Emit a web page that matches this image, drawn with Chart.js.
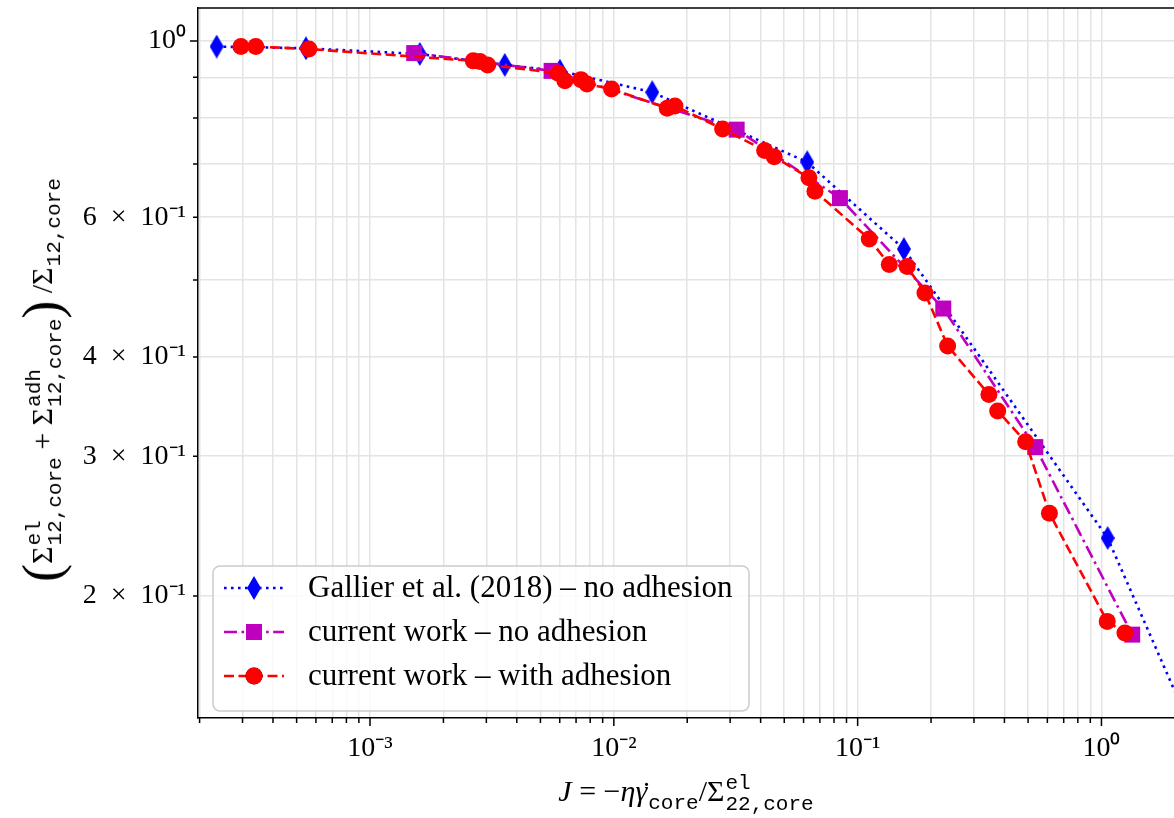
<!DOCTYPE html>
<html>
<head>
<meta charset="utf-8">
<script src="https://cdn.jsdelivr.net/npm/chart.js@4.4.1/dist/chart.umd.min.js"></script>
<style>
  html, body { margin: 0; padding: 0; background: #fff; }
  #wrap { position: relative; width: 1174px; height: 818px; overflow: hidden; }
  canvas { display: block; }
  .ttl { position: absolute; font-family: "Liberation Serif", serif; color: #000; white-space: nowrap; line-height: 1; font-size: 30px; }
  .tt { font-family: "Liberation Mono", monospace; }
  .ss { display: inline-block; vertical-align: -9px; font-size: 21px; line-height: 1.0; text-align: left; margin-left: 1px; }
  .ss > span { display: block; }
  .sb { font-size: 21px; vertical-align: -0.4em; margin-left: 1px; }
  .bp { font-size: 54px; vertical-align: -8px; }
  .dotted { position: relative; display: inline-block; }
  .dotted > .dot { position: absolute; left: 0.2em; top: 0.06em; font-style: normal; }
  #xtitle { left: 686px; top: 773px; transform: translateX(-50%); }
  #ytitle { left: 42px; top: 380px; transform: translate(-50%, -50%) rotate(-90deg); }
</style>
</head>
<body>
<div id="wrap">
  <canvas id="chart" width="1174" height="818"></canvas>
  <div id="xtitle" class="ttl"><i>J</i> = −<i>η</i><i class="dotted">γ<span class="dot">˙</span></i><span class="sb tt">core</span>/Σ<span class="ss tt"><span>el</span><span>22,core</span></span></div>
  <div id="ytitle" class="ttl"><span class="bp">(</span>Σ<span class="ss tt"><span>el</span><span>12,core</span></span> + Σ<span class="ss tt"><span>adh</span><span>12,core</span></span><span class="bp">)</span> /Σ<span class="sb tt">12,core</span></div>
</div>
<script>
// Shear stress ratio against the dimensionless shear rate J (log-log)

// Gallier et al. (2018), no adhesion
const J_GALLIER = [2.35e-4, 5.46e-4, 1.60e-3, 3.57e-3, 6.01e-3, 0.01437, 0.0621, 0.1548, 1.060, 3.0];
const S_GALLIER = [0.984, 0.979, 0.963, 0.933, 0.917, 0.862, 0.7036, 0.547, 0.2366, 0.1142];

// current work, no adhesion
const J_NOADH = [1.518e-3, 5.556e-3, 0.03190, 0.0846, 0.2245, 0.5353, 1.337];
const S_NOADH = [0.9656, 0.917, 0.7733, 0.634, 0.4603, 0.308, 0.1788];

// current work, with adhesion
const J_ADH = [2.955e-4, 3.40e-4, 5.615e-4, 2.651e-3, 2.824e-3, 3.037e-3, 5.916e-3, 6.30e-3, 7.33e-3,
               7.76e-3, 9.79e-3, 0.01656, 0.01781, 0.02794, 0.04155, 0.04548, 0.06313, 0.06682,
               0.1116, 0.1348, 0.1596, 0.1888, 0.2339, 0.3455, 0.3753, 0.4887, 0.6118, 1.056, 1.248];
const S_ADH = [0.984, 0.984, 0.977, 0.944, 0.942, 0.933, 0.911, 0.891, 0.894,
               0.883, 0.870, 0.823, 0.828, 0.775, 0.728, 0.715, 0.6725, 0.647,
               0.563, 0.523, 0.520, 0.4816, 0.413, 0.3588, 0.342, 0.3128, 0.2543, 0.1858, 0.1797];

const SERIES_LABELS = [
  'Gallier et al. (2018) – no adhesion',
  'current work – no adhesion',
  'current work – with adhesion'
];

// axis ticks
const X_DECADES = [1e-4, 1e-3, 1e-2, 1e-1, 1];
const X_MAJOR_LABELS = { '0.001': '10⁻³', '0.01': '10⁻²', '0.1': '10⁻¹', '1': '10⁰' };
const Y_TICKS = [0.2, 0.3, 0.4, 0.5, 0.6, 0.7, 0.8, 0.9, 1];
const Y_TICK_LABELS = ['2\u2002×\u200210⁻¹', '3\u2002×\u200210⁻¹', '4\u2002×\u200210⁻¹', '',
                       '6\u2002×\u200210⁻¹', '', '', '', '10⁰'];

const X_MIN = 1.970e-4, X_MAX = 1.984;
const Y_MIN = 0.1404, Y_MAX = 1.1004;

const FONT = "'Liberation Serif', serif";
Chart.defaults.font.family = FONT;
Chart.defaults.color = '#000';

function pts(xs, ys) { return xs.map((x, i) => ({ x: x, y: ys[i] })); }

// tall, narrow diamond marker
function thinDiamond(w, h, color) {
  const c = document.createElement('canvas');
  c.width = w; c.height = h;
  const g = c.getContext('2d');
  g.fillStyle = color;
  g.beginPath();
  g.moveTo(w / 2, 0); g.lineTo(w, h / 2); g.lineTo(w / 2, h); g.lineTo(0, h / 2);
  g.closePath(); g.fill();
  return c;
}
const diamond = thinDiamond(14, 24, '#0000ff');

const isDecade = v => Math.abs(Math.log10(v) - Math.round(Math.log10(v))) < 1e-9;

// tick marks outside the axes, longer on decades, plus the top frame line
const tickMarks = {
  id: 'tickMarks',
  afterDraw(chart) {
    const ctx = chart.ctx, a = chart.chartArea;
    const xs = chart.scales.x, ys = chart.scales.y;
    ctx.save();
    ctx.strokeStyle = '#000';
    ctx.lineWidth = 1.5;
    ctx.beginPath();
    xs.ticks.forEach(t => {
      const p = xs.getPixelForValue(t.value);
      const len = isDecade(t.value) ? 8 : 5;
      ctx.moveTo(p, a.bottom); ctx.lineTo(p, a.bottom + len);
    });
    ys.ticks.forEach(t => {
      const p = ys.getPixelForValue(t.value);
      const len = isDecade(t.value) ? 8 : 5;
      ctx.moveTo(a.left, p); ctx.lineTo(a.left - len, p);
    });
    ctx.moveTo(a.left - 0.75, a.top); ctx.lineTo(a.right + 2, a.top);
    ctx.stroke();
    ctx.restore();
  }
};

// legend box in the lower-left corner of the plot
const cornerLegend = {
  id: 'cornerLegend',
  afterDraw(chart) {
    const ctx = chart.ctx, a = chart.chartArea;
    const bx = a.left + 15, bw = 536, bh = 145, by = a.bottom - 152;
    ctx.save();
    ctx.beginPath();
    ctx.roundRect(bx, by, bw, bh, 7);
    ctx.fillStyle = 'rgba(255,255,255,0.8)';
    ctx.fill();
    ctx.lineWidth = 1.5;
    ctx.strokeStyle = '#cccccc';
    ctx.stroke();
    [0, 1, 2].forEach((di, row) => {
      const ds = chart.data.datasets[di];
      const cy = by + 22 + row * 44;
      const x0 = bx + 11, x1 = bx + 71, xm = (x0 + x1) / 2;
      ctx.beginPath();
      ctx.setLineDash(ds.borderDash || []);
      ctx.lineDashOffset = 0;
      ctx.strokeStyle = ds.borderColor;
      ctx.lineWidth = ds.borderWidth;
      ctx.lineCap = 'butt';
      ctx.moveTo(x0, cy); ctx.lineTo(x1, cy);
      ctx.stroke();
      ctx.setLineDash([]);
      if (ds.pointStyle instanceof HTMLCanvasElement) {
        ctx.drawImage(ds.pointStyle, xm - ds.pointStyle.width / 2, cy - ds.pointStyle.height / 2);
      } else {
        Chart.helpers.drawPoint(ctx, {
          pointStyle: ds.pointStyle, radius: ds.pointRadius, rotation: 0, borderWidth: 0
        }, xm, cy);
        ctx.fillStyle = ds.pointBackgroundColor;
        ctx.fill();
      }
      ctx.fillStyle = '#000';
      ctx.font = '31px ' + FONT;
      ctx.textBaseline = 'middle';
      ctx.textAlign = 'left';
      ctx.fillText(ds.label, bx + 95, cy + 1);
    });
    ctx.restore();
  }
};

const chart = new Chart(document.getElementById('chart'), {
  type: 'line',
  data: {
    datasets: [
      {
        label: SERIES_LABELS[0],
        data: pts(J_GALLIER, S_GALLIER),
        borderColor: '#0000ff', backgroundColor: '#0000ff',
        borderWidth: 2.6, borderDash: [2.6, 4.4],
        pointStyle: diamond, pointRadius: 10,
        pointBackgroundColor: '#0000ff', pointBorderWidth: 0,
        order: 3
      },
      {
        label: SERIES_LABELS[1],
        data: pts(J_NOADH, S_NOADH),
        borderColor: '#bf00bf', backgroundColor: '#bf00bf',
        borderWidth: 2.6, borderDash: [13, 4.5, 2.6, 4.5],
        pointStyle: 'rect', pointRadius: 11.3,
        pointBackgroundColor: '#bf00bf', pointBorderWidth: 0,
        order: 2
      },
      {
        label: SERIES_LABELS[2],
        data: pts(J_ADH, S_ADH),
        borderColor: '#ff0000', backgroundColor: '#ff0000',
        borderWidth: 2.6, borderDash: [10, 4.5],
        pointStyle: 'circle', pointRadius: 8.5,
        pointBackgroundColor: '#ff0000', pointBorderWidth: 0,
        order: 1
      }
    ]
  },
  options: {
    responsive: false,
    animation: false,
    devicePixelRatio: 1,
    layout: { autoPadding: false, padding: { top: 8, right: 0, left: 0, bottom: 0 } },
    elements: { line: { tension: 0, fill: false } },
    plugins: { legend: { display: false }, tooltip: { enabled: false } },
    scales: {
      x: {
        type: 'logarithmic',
        min: X_MIN, max: X_MAX,
        afterBuildTicks(scale) {
          const t = [];
          X_DECADES.forEach(d => {
            for (let m = 1; m <= 9; m++) {
              const v = +(m * d).toPrecision(6);
              if (v >= X_MIN && v <= X_MAX) t.push({ value: v });
            }
          });
          scale.ticks = t;
        },
        afterFit(scale) {
          scale.height = 100;
          scale.paddingLeft = 0; scale.paddingRight = 0;
        },
        grid: { color: '#e4e4e4', lineWidth: 1.5, drawTicks: false },
        border: { display: true, color: '#000', width: 1.5 },
        ticks: {
          autoSkip: false, maxRotation: 0, padding: 14,
          font: { size: 28, family: FONT },
          callback(v) { return X_MAJOR_LABELS[String(+v.toPrecision(6))] || ''; }
        }
      },
      y: {
        type: 'logarithmic',
        min: Y_MIN, max: Y_MAX,
        afterBuildTicks(scale) { scale.ticks = Y_TICKS.map(v => ({ value: v })); },
        afterFit(scale) {
          scale.width = 198;
          scale.paddingTop = 0; scale.paddingBottom = 0;
        },
        grid: { color: '#e4e4e4', lineWidth: 1.5, drawTicks: false },
        border: { display: true, color: '#000', width: 1.5 },
        ticks: {
          autoSkip: false, padding: 12,
          font: { size: 28, family: FONT },
          callback(v, i) { return Y_TICK_LABELS[i]; }
        }
      }
    }
  },
  plugins: [tickMarks, cornerLegend]
});
</script>
</body>
</html>
